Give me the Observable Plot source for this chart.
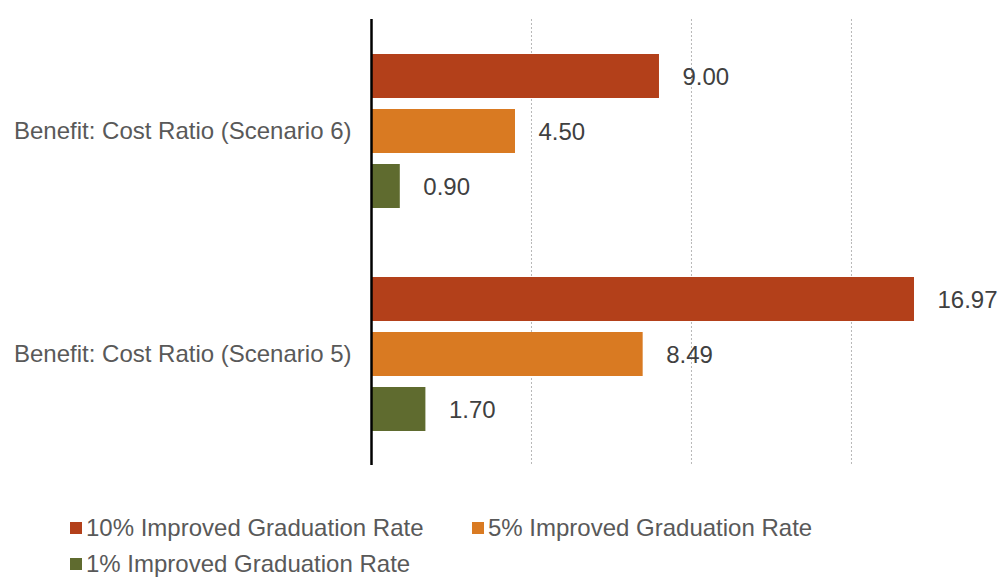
<!DOCTYPE html>
<html><head><meta charset="utf-8">
<script src="https://cdn.jsdelivr.net/npm/d3@7"></script>
<script src="https://cdn.jsdelivr.net/npm/@observablehq/plot@0.6"></script>
<style>
body{margin:0;background:#fff;font-family:"Liberation Sans",Arial,sans-serif;overflow:hidden;}
#legend{position:relative;width:1002px;height:98px;font-size:24px;color:#595959;}
.item{position:absolute;display:flex;align-items:center;white-space:nowrap;height:28px;line-height:28px;}
.sw{width:12px;height:12px;margin-right:4px;}
</style></head>
<body><div id="chart"></div><div id="legend"></div>
<script>
const groups = ["Benefit: Cost Ratio (Scenario 6)", "Benefit: Cost Ratio (Scenario 5)"];
const series = ["10% Improved Graduation Rate", "5% Improved Graduation Rate", "1% Improved Graduation Rate"];
const colors = ["#B3401A", "#D97A22", "#5F6B2F"];
const scenario6 = [9.00, 4.50, 0.90];
const scenario5 = [16.97, 8.49, 1.70];
const gridTicks = [5, 10, 15];

const data = [];
series.forEach((s, i) => {
  data.push({group: groups[0], series: s, value: scenario6[i]});
  data.push({group: groups[1], series: s, value: scenario5[i]});
});

const chart = Plot.plot({
  width: 1002,
  height: 480,
  marginLeft: 371,
  marginRight: 0,
  marginTop: 18,
  marginBottom: 15,
  style: {fontFamily: '"Liberation Sans", Arial, sans-serif', color: "#595959", background: "#fff", overflow: "visible"},
  x: {domain: [0, 19.72], axis: null},
  y: {domain: series, axis: null, paddingInner: 0.2, paddingOuter: 0.6},
  fy: {domain: groups, padding: 0, label: null},
  color: {domain: series, range: colors},
  marks: [
    Plot.gridX(gridTicks, {stroke: "#b8b8b8", strokeOpacity: 1, strokeDasharray: "2,2", strokeWidth: 1}),
    Plot.axisFy({anchor: "left", tickSize: 0, tickPadding: 20, label: null, fontSize: 24, fill: "#595959"}),
    Plot.barX(data, {x: "value", y: "series", fy: "group", fill: "series"}),
    Plot.text(data, {x: "value", y: "series", fy: "group", text: d => d.value.toFixed(2), dx: 23, dy: 1, textAnchor: "start", fontSize: 24, fill: "#404040"}),
    Plot.ruleX([0], {stroke: "#000", strokeWidth: 2.5})
  ]
});
document.getElementById("chart").appendChild(chart);

const legend = document.getElementById("legend");
const pos = [[70, 48], [472, 48], [70, 84]];
series.forEach((s, i) => {
  const it = document.createElement("div");
  it.className = "item";
  it.style.left = pos[i][0] + "px";
  it.style.top = (pos[i][1] - 14) + "px";
  it.innerHTML = `<span class="sw" style="background:${colors[i]}"></span><span>${s}</span>`;
  legend.appendChild(it);
});
</script></body></html>
